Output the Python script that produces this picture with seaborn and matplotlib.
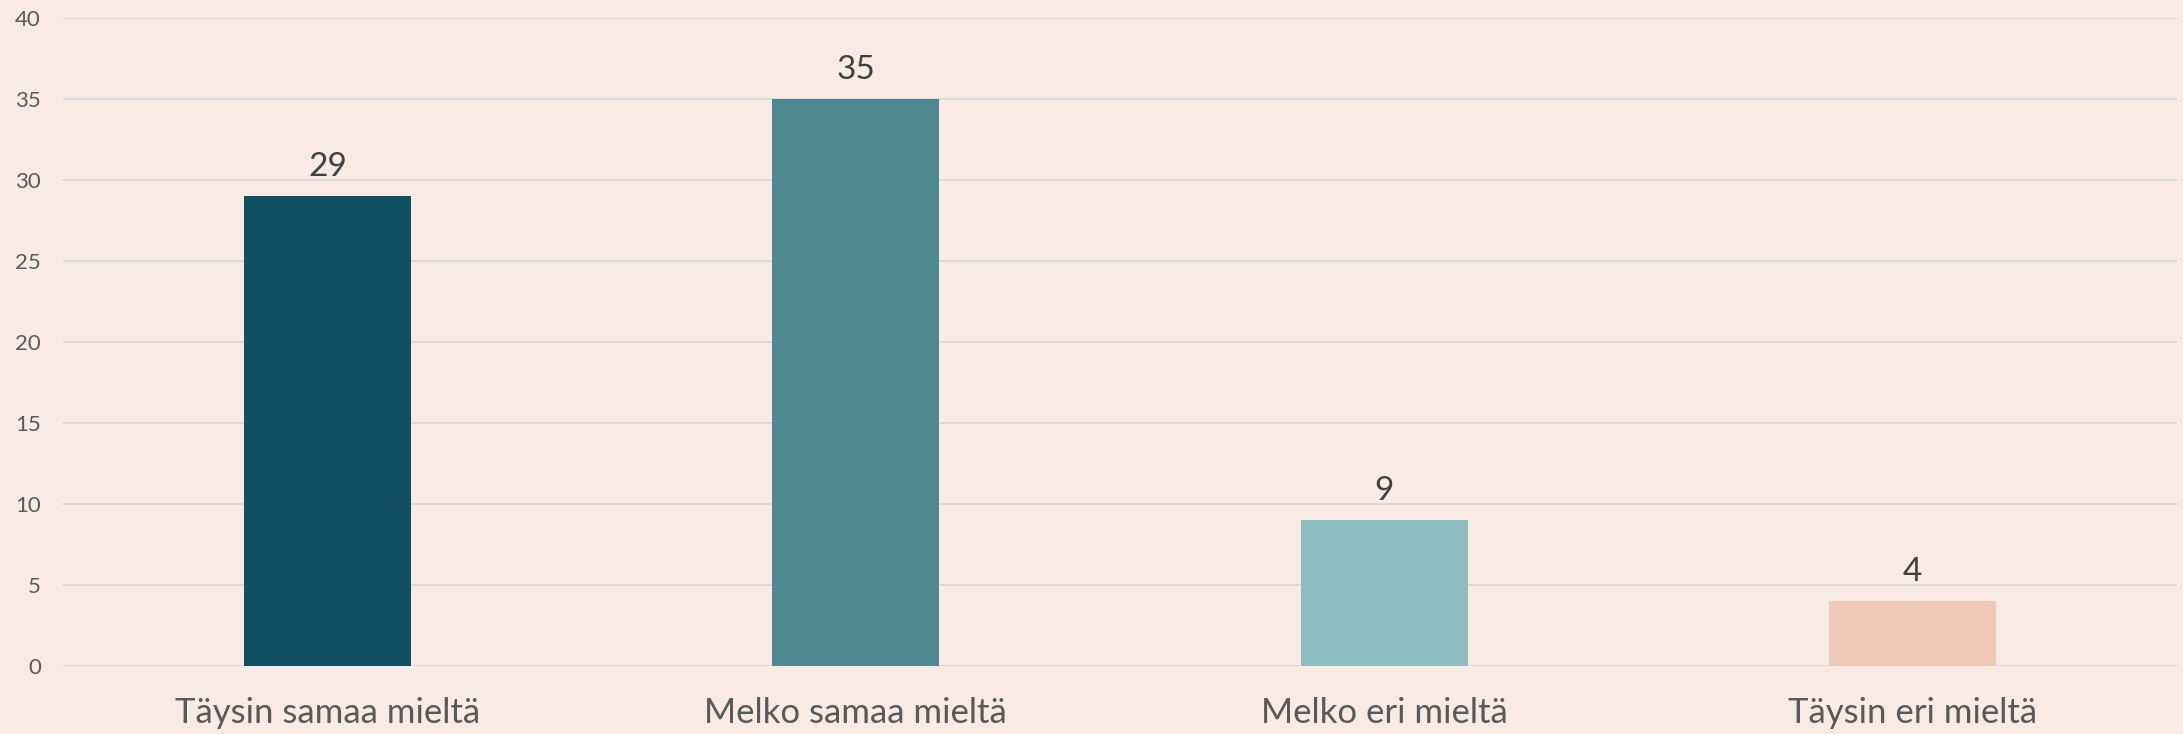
import matplotlib
matplotlib.use("Agg")
import matplotlib.pyplot as plt
import seaborn as sns
import pandas as pd

categories = ["Täysin samaa mieltä", "Melko samaa mieltä", "Melko eri mieltä", "Täysin eri mieltä"]
values = [29, 35, 9, 4]
bar_colors = ["#114F62", "#4F8890", "#8DBDBE", "#EECBB6"]
y_ticks = [0, 5, 10, 15, 20, 25, 30, 35, 40]

bg = "#F9EAE3"
sns.set_style("white")
plt.rcParams["font.family"] = ["Lato", "DejaVu Sans"]

df = pd.DataFrame({"cat": categories, "val": values})

fig = plt.figure(figsize=(21.83, 7.34), dpi=100, facecolor=bg)
ax = fig.add_axes([0.0289, 0.0926, 0.9684, 0.8829])
ax.set_facecolor(bg)

sns.barplot(data=df, x="cat", y="val", hue="cat", palette=bar_colors,
            width=0.316, legend=False, ax=ax, saturation=1, linewidth=0)

ax.set_ylim(0, 40)
ax.set_xlim(-0.5, 3.5)
ax.set_yticks(y_ticks)
ax.yaxis.grid(True, color="#D9D9D9", linewidth=1.3)
ax.set_axisbelow(True)
for s in ax.spines.values():
    s.set_visible(False)

ax.set_xlabel("")
ax.set_ylabel("")
ax.tick_params(axis="y", length=0, labelsize=16, labelcolor="#595959", pad=16)
ax.tick_params(axis="x", length=0, labelsize=25, labelcolor="#595959", pad=22)

for c in ax.containers:
    ax.bar_label(c, fontsize=24, color="#404040", padding=10)

fig.savefig("out.png", dpi=100, facecolor=bg)
